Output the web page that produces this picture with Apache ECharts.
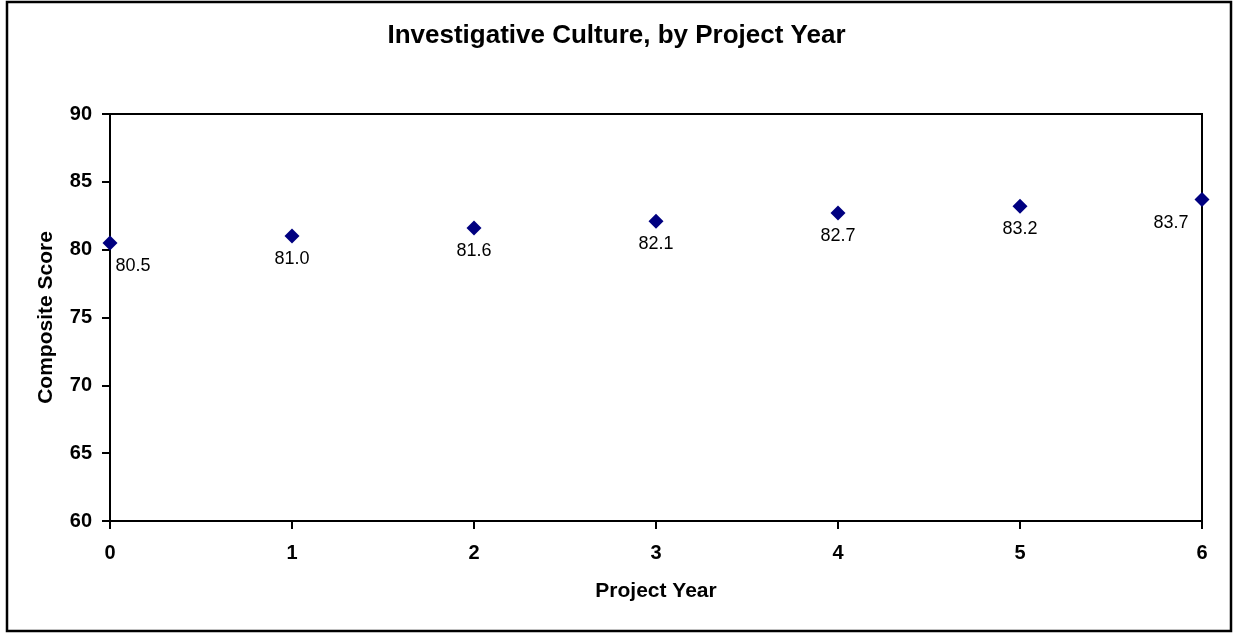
<!DOCTYPE html>
<html>
<head>
<meta charset="utf-8">
<script src="https://cdn.jsdelivr.net/npm/echarts@6/dist/echarts.min.js"></script>
<style>
html,body{margin:0;padding:0;background:#fff;}
#chart{width:1233px;height:634px;}
</style>
</head>
<body>
<div id="chart"></div>
<script>
const titleText = 'Investigative Culture, by Project Year';
const xAxisName = 'Project Year';
const yAxisName = 'Composite Score';
const years = [0, 1, 2, 3, 4, 5, 6];
const scores = [80.5, 81.0, 81.6, 82.1, 82.7, 83.2, 83.7];
const labelOffsets = [[23, 23], [0, 23], [0, 23], [0, 23], [0, 23], [0, 23], [-31, 24]];

const FONT = '"Liberation Sans", Arial, sans-serif';
const chart = echarts.init(document.getElementById('chart'));

const data = years.map((x, i) => ({
  value: [x, scores[i]],
  label: { offset: labelOffsets[i] }
}));

chart.setOption({
  animation: false,
  backgroundColor: '#ffffff',
  title: {
    text: titleText,
    left: 'center',
    top: 18,
    textStyle: { fontFamily: FONT, fontSize: 26, fontWeight: 'bold', color: '#000' }
  },
  graphic: [{
    type: 'rect',
    shape: { x: 7, y: 2, width: 1224, height: 629 },
    style: { fill: 'none', stroke: '#000', lineWidth: 2.5 },
    silent: true
  }],
  grid: {
    left: 110, right: 31, top: 114, bottom: 113,
    show: true, borderColor: '#000', borderWidth: 2, backgroundColor: 'transparent'
  },
  xAxis: {
    type: 'value',
    min: 0, max: 6, interval: 1,
    name: xAxisName,
    nameLocation: 'middle',
    nameGap: 60,
    nameTextStyle: { fontFamily: FONT, fontSize: 21, fontWeight: 'bold', color: '#000' },
    axisLine: { show: true, lineStyle: { color: '#000', width: 2 } },
    axisTick: { show: true, length: 8, lineStyle: { color: '#000', width: 2 } },
    axisLabel: { margin: 22, fontFamily: FONT, fontSize: 20, fontWeight: 'bold', color: '#000' },
    splitLine: { show: false }
  },
  yAxis: {
    type: 'value',
    min: 60, max: 90, interval: 5,
    name: yAxisName,
    nameLocation: 'middle',
    nameGap: 53,
    nameTextStyle: { fontFamily: FONT, fontSize: 21, fontWeight: 'bold', color: '#000' },
    axisLine: { show: true, lineStyle: { color: '#000', width: 2 } },
    axisTick: { show: true, length: 8, lineStyle: { color: '#000', width: 2 } },
    axisLabel: { margin: 18, fontFamily: FONT, fontSize: 20, fontWeight: 'bold', color: '#000' },
    splitLine: { show: false }
  },
  series: [{
    type: 'scatter',
    data: data,
    symbol: 'diamond',
    symbolSize: [15, 15],
    itemStyle: { color: '#000080', opacity: 1 },
    label: {
      show: true,
      position: 'inside',
      fontFamily: FONT,
      fontSize: 18,
      color: '#000',
      opacity: 1,
      formatter: p => p.value[1].toFixed(1)
    }
  }]
});
</script>
</body>
</html>
